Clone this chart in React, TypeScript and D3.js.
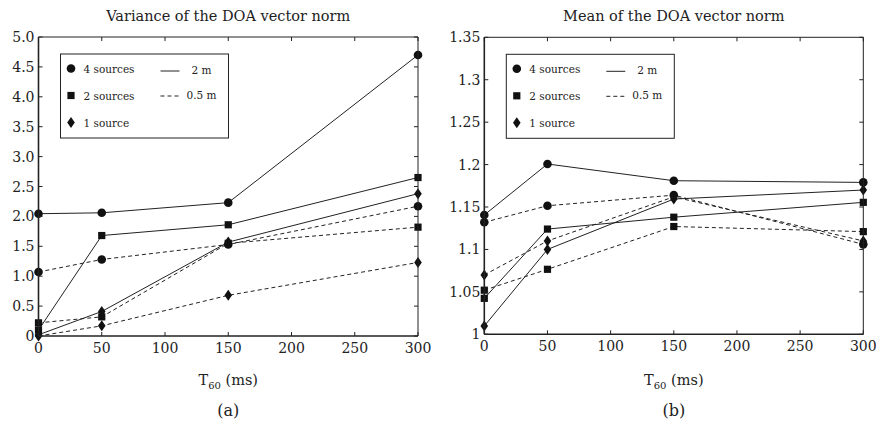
import React from "react";
import * as d3 from "d3";

const T60 = [0, 50, 150, 300];
const xTicks = [0, 50, 100, 150, 200, 250, 300];

// variance panel (a)
const varTicks = [0, 0.5, 1, 1.5, 2, 2.5, 3, 3.5, 4, 4.5, 5];
const var4src2m = [2.045, 2.06, 2.23, 4.7];
const var4src05m = [1.07, 1.28, 1.53, 2.17];
const var2src2m = [0.1, 1.68, 1.86, 2.65];
const var2src05m = [0.22, 0.32, 1.55, 1.82];
const var1src2m = [0.02, 0.41, 1.57, 2.38];
const var1src05m = [0.0, 0.17, 0.68, 1.23];

// mean panel (b)
const meanTicks = [1, 1.05, 1.1, 1.15, 1.2, 1.25, 1.3, 1.35];
const mean4src2m = [1.1406, 1.2007, 1.181, 1.179];
const mean4src05m = [1.132, 1.1515, 1.164, 1.106];
const mean2src2m = [1.0424, 1.124, 1.138, 1.1555];
const mean2src05m = [1.052, 1.0766, 1.127, 1.121];
const mean1src2m = [1.0098, 1.1, 1.1594, 1.17];
const mean1src05m = [1.0699, 1.11, 1.162, 1.11];

type Shape = "circle" | "square" | "diamond";
type Series = { values: number[]; shape: Shape; dashed: boolean };

const font = "DejaVu Serif, serif";

const Marker = ({ shape, x, y }: { shape: Shape; x: number; y: number }) => {
  if (shape === "circle") return <circle cx={x} cy={y} r={4.3} fill="#111" />;
  if (shape === "square") return <rect x={x - 3.6} y={y - 3.6} width={7.2} height={7.2} fill="#111" />;
  return <path d={`M${x},${y - 5.5}L${x + 3.8},${y}L${x},${y + 5.5}L${x - 3.8},${y}Z`} fill="#111" />;
};

const Panel = ({
  left, right, top, bottom, domain, ticks, fmt, series, title, tag,
}: {
  left: number; right: number; top: number; bottom: number;
  domain: [number, number]; ticks: number[]; fmt: (v: number) => string;
  series: Series[]; title: string; tag: string;
}) => {
  const x = d3.scaleLinear().domain([0, 300]).range([left, right]);
  const y = d3.scaleLinear().domain(domain).range([bottom, top]);
  const line = d3.line<number>().x((_, i) => x(T60[i])).y(v => y(v));
  const cx = (left + right) / 2;
  const lgX = left + 22;
  const lgY = top + 17;
  return (
    <g style={{ fontFamily: font }} fill="#222">
      <text x={cx} y={21} textAnchor="middle" fontSize={14.5}>{title}</text>
      {series.map((s, i) => (
        <path key={i} d={line(s.values) || ""} fill="none" stroke="#222" strokeWidth={1}
          strokeDasharray={s.dashed ? "4,3" : undefined} />
      ))}
      {series.map((s, i) => s.values.map((v, j) => (
        <Marker key={i + "-" + j} shape={s.shape} x={x(T60[j])} y={y(v)} />
      )))}
      {/* frame */}
      <line x1={left} x2={right} y1={top} y2={top} stroke="#222" strokeWidth={1} />
      <line x1={right} x2={right} y1={top} y2={bottom} stroke="#222" strokeWidth={1} />
      <line x1={left} x2={left} y1={top} y2={bottom} stroke="#222" strokeWidth={1.6} />
      <line x1={left} x2={right} y1={bottom} y2={bottom} stroke="#222" strokeWidth={1.6} />
      {ticks.map(t => (
        <g key={t}>
          <line x1={left} x2={left + 4} y1={y(t)} y2={y(t)} stroke="#222" />
          <line x1={right} x2={right - 4} y1={y(t)} y2={y(t)} stroke="#222" />
          <text x={left - 4} y={y(t) + 5} textAnchor="end" fontSize={14}>{fmt(t)}</text>
        </g>
      ))}
      {xTicks.map(t => (
        <g key={t}>
          <line x1={x(t)} x2={x(t)} y1={bottom} y2={bottom - 4} stroke="#222" />
          <line x1={x(t)} x2={x(t)} y1={top} y2={top + 4} stroke="#222" />
          <text x={x(t)} y={bottom + 17} textAnchor="middle" fontSize={14}>{t}</text>
        </g>
      ))}
      <text x={cx} y={385} textAnchor="middle" fontSize={14.5}>
        T<tspan fontSize={10} dy={4}>60</tspan><tspan dy={-4}>{"  (ms)"}</tspan>
      </text>
      <text x={cx} y={416} textAnchor="middle" fontSize={16}>{tag}</text>
      {/* legend */}
      <rect x={lgX} y={lgY} width={168} height={84} fill="white" stroke="#222" strokeWidth={1} />
      {(["circle", "square", "diamond"] as Shape[]).map((s, i) => (
        <g key={s}>
          <Marker shape={s} x={lgX + 10.5} y={lgY + 14.5 + i * 27} />
          <text x={lgX + 23} y={lgY + 18.5 + i * 27} fontSize={10.5}>
            {["4 sources", "2 sources", "1 source"][i]}
          </text>
        </g>
      ))}
      <line x1={lgX + 100} x2={lgX + 119} y1={lgY + 17} y2={lgY + 17} stroke="#222" />
      <text x={lgX + 131} y={lgY + 20} fontSize={10.5}>2 m</text>
      <line x1={lgX + 100} x2={lgX + 119} y1={lgY + 42} y2={lgY + 42} stroke="#222" strokeDasharray="4,3" />
      <text x={lgX + 126} y={lgY + 45} fontSize={10.5}>0.5 m</text>
    </g>
  );
};

export default function App() {
  const varSeries: Series[] = [
    { values: var4src2m, shape: "circle", dashed: false },
    { values: var4src05m, shape: "circle", dashed: true },
    { values: var2src2m, shape: "square", dashed: false },
    { values: var2src05m, shape: "square", dashed: true },
    { values: var1src2m, shape: "diamond", dashed: false },
    { values: var1src05m, shape: "diamond", dashed: true },
  ];
  const meanSeries: Series[] = [
    { values: mean4src2m, shape: "circle", dashed: false },
    { values: mean4src05m, shape: "circle", dashed: true },
    { values: mean2src2m, shape: "square", dashed: false },
    { values: mean2src05m, shape: "square", dashed: true },
    { values: mean1src2m, shape: "diamond", dashed: false },
    { values: mean1src05m, shape: "diamond", dashed: true },
  ];
  return (
    <svg width={876} height={426} style={{ position: "absolute", left: 0, top: 0, background: "white" }}>
      <rect width={876} height={426} fill="white" />
      <Panel left={38.5} right={418} top={37} bottom={336} domain={[0, 5]} ticks={varTicks}
        fmt={v => (v === 0 ? "0" : d3.format(".1f")(v))} series={varSeries}
        title="Variance of the DOA vector norm" tag="(a)" />
      <Panel left={484.3} right={863.3} top={37.3} bottom={334.3} domain={[1, 1.35]} ticks={meanTicks}
        fmt={v => String(+v.toFixed(2))} series={meanSeries}
        title="Mean of the DOA vector norm" tag="(b)" />
    </svg>
  );
}
